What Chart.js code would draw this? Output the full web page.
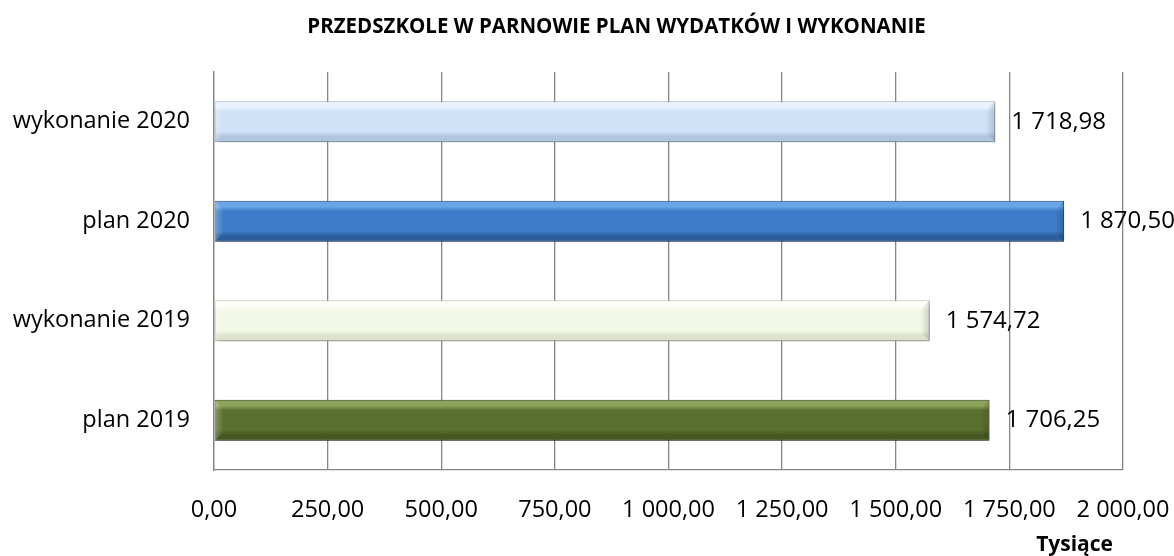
<!DOCTYPE html>
<html>
<head>
<meta charset="utf-8">
<script src="https://cdn.jsdelivr.net/npm/chart.js@4/dist/chart.umd.min.js"></script>
<style>
  html, body { margin: 0; padding: 0; background: #ffffff; }
  #wrap { width: 1174px; height: 556px; position: relative; }
</style>
</head>
<body>
<div id="wrap"><canvas id="c" width="1174" height="556"></canvas></div>
<script>
const chartTitle = 'PRZEDSZKOLE W PARNOWIE PLAN WYDATKÓW I WYKONANIE';
const axisTitle = 'Tysiące';
const categories = ['wykonanie 2020', 'plan 2020', 'wykonanie 2019', 'plan 2019'];
const values = [1718.98, 1870.50, 1574.72, 1706.25];
const xMin = 0;
const xMax = 2000;
const xStep = 250;

// colour stops per bar: [top highlight, main, bottom shade, border]
const barColors = [
  ['#EAF3FD', '#CEE1F7', '#AFC5E0', '#9FB3CE'],
  ['#6AA6E6', '#3C7CC9', '#2C5E9E', '#24497A'],
  ['#FDFEF8', '#F3F8E6', '#DCE2CC', '#C4CAB2'],
  ['#8CA35A', '#5B6F30', '#475822', '#34401A']
];

const FONT = "'Open Sans', 'Noto Sans', sans-serif";

function fmt(v) {
  const parts = v.toFixed(2).split('.');
  const int = parts[0].replace(/\B(?=(\d{3})+(?!\d))/g, ' ');
  return int + ',' + parts[1];
}

function barGradient(ctx) {
  const chart = ctx.chart;
  const i = ctx.dataIndex;
  const c = barColors[i];
  const ys = chart.scales && chart.scales.y;
  if (!chart.chartArea || !ys || i === undefined) return c[1];
  const yc = ys.getPixelForValue(i);
  const h = (chart.chartArea.bottom - chart.chartArea.top) / categories.length * 0.41;
  const g = chart.ctx.createLinearGradient(0, yc - h / 2, 0, yc + h / 2);
  g.addColorStop(0, c[0]);
  g.addColorStop(0.14, c[0]);
  g.addColorStop(0.26, c[1]);
  g.addColorStop(0.74, c[1]);
  g.addColorStop(0.86, c[2]);
  g.addColorStop(1, c[2]);
  return g;
}

const textPlugin = {
  id: 'texts',
  afterDraw(chart) {
    const ctx = chart.ctx;
    ctx.save();
    ctx.fillStyle = '#000000';
    ctx.textBaseline = 'middle';
    ctx.textAlign = 'center';
    ctx.font = 'bold 20.5px ' + FONT;
    ctx.fillText(chartTitle, 616.5, 27);
    ctx.textAlign = 'right';
    ctx.font = 'bold 21px ' + FONT;
    ctx.fillText(axisTitle, chart.chartArea.right - 10, 545);
    ctx.restore();
  }
};

const shadowPlugin = {
  id: 'barShadow',
  beforeDatasetsDraw(chart) {
    const ctx = chart.ctx;
    ctx.save();
    ctx.shadowColor = 'rgba(0,0,0,0.35)';
    ctx.shadowBlur = 6;
    ctx.shadowOffsetX = 1;
    ctx.shadowOffsetY = 4;
  },
  afterDatasetsDraw(chart) {
    chart.ctx.restore();
    const ctx = chart.ctx;
    const meta = chart.getDatasetMeta(0);
    ctx.save();
    meta.data.forEach((el, i) => {
      const p = el.getProps(['x', 'y', 'base', 'height'], true);
      const top = p.y - p.height / 2;
      const bot = p.y + p.height / 2;
      const w = 9;
      let g = ctx.createLinearGradient(p.base, 0, p.base + w, 0);
      g.addColorStop(0, 'rgba(255,255,255,0.28)');
      g.addColorStop(1, 'rgba(255,255,255,0.0)');
      ctx.beginPath();
      ctx.moveTo(p.base, top);
      ctx.lineTo(p.base + w, top + w);
      ctx.lineTo(p.base + w, bot - w);
      ctx.lineTo(p.base, bot);
      ctx.closePath();
      ctx.fillStyle = g;
      ctx.fill();
      g = ctx.createLinearGradient(p.x - w, 0, p.x, 0);
      g.addColorStop(0, 'rgba(0,0,0,0.0)');
      g.addColorStop(1, 'rgba(0,0,0,0.16)');
      ctx.beginPath();
      ctx.moveTo(p.x, top);
      ctx.lineTo(p.x - w, top + w);
      ctx.lineTo(p.x - w, bot - w);
      ctx.lineTo(p.x, bot);
      ctx.closePath();
      ctx.fillStyle = g;
      ctx.fill();
      ctx.fillStyle = '#000000';
      ctx.font = '24px ' + FONT;
      ctx.textAlign = 'left';
      ctx.textBaseline = 'middle';
      ctx.fillText(fmt(values[i]), p.x + 16, p.y);
    });
    ctx.restore();
  }
};

new Chart(document.getElementById('c'), {
  type: 'bar',
  data: {
    labels: categories,
    datasets: [{
      data: values,
      backgroundColor: barGradient,
      borderColor: barColors.map(c => c[3]),
      borderWidth: 1,
      borderSkipped: false,
      barPercentage: 0.41,
      categoryPercentage: 1.0
    }]
  },
  options: {
    indexAxis: 'y',
    responsive: false,
    animation: false,
    layout: { padding: { left: 0, right: 51, top: 72, bottom: 0 } },
    plugins: {
      legend: { display: false },
      tooltip: { enabled: false },
      title: { display: false }
    },
    scales: {
      x: {
        min: xMin,
        max: xMax,
        afterFit(scale) {
          scale.height = 86;
          scale.paddingLeft = 0;
          scale.paddingRight = 0;
        },
        ticks: {
          stepSize: xStep,
          color: '#000000',
          font: { family: FONT, size: 23.5 },
          padding: 26,
          callback: (v) => fmt(v)
        },
        grid: { color: '#868686', lineWidth: 1.3, drawTicks: false },
        border: { color: '#868686', width: 1.3 }
      },
      y: {
        afterFit(scale) {
          scale.width = 214;
          scale.paddingTop = 0;
          scale.paddingBottom = 0;
        },
        ticks: {
          color: '#000000',
          font: { family: FONT, size: 23.5 },
          padding: 24
        },
        grid: { display: false, drawTicks: false },
        border: { color: '#868686', width: 1.3 }
      }
    }
  },
  plugins: [shadowPlugin, textPlugin]
});
</script>
</body>
</html>
